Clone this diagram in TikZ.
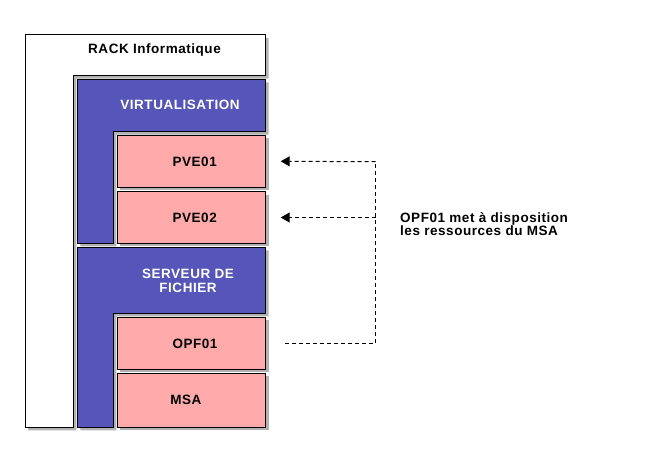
\documentclass[tikz,border=0pt]{standalone}
\usepackage{fontspec}
\setmainfont{Liberation Sans}
\newfontfamily\lblfont[LetterSpace=4]{Liberation Sans}
\usetikzlibrary{shadows,arrows.meta}
\definecolor{virt}{HTML}{5656BA}
\definecolor{vm}{HTML}{FFAAAA}
\begin{document}
\begin{tikzpicture}[x=1pt,y=-1pt,
  shad/.style={drop shadow={shadow xshift=3pt,shadow yshift=-3pt,fill=black,opacity=0.3}},
  box/.style={draw=black,line width=1pt,shad},
  vmbox/.style={box,fill=vm,rectangle,inner sep=0pt,outer sep=0pt,minimum width=148.4pt},
  lbl/.style={font=\lblfont\bfseries\fontsize{13.5}{14}\selectfont,inner sep=0pt,anchor=base},
  link/.style={line width=1pt,dash pattern=on 4pt off 3pt},
  tip/.style={-{Triangle[length=9pt,width=10pt]}}
]
\useasboundingbox[fill=white] (0,0) rectangle (650,462);
% RACK L-shape
\draw[box,fill=white] (25,35) -- (265.7,35) -- (265.7,75.7) -- (73.3,75.7) -- (73.3,427.3) -- (25,427.3) -- cycle;
% VIRTUALISATION L-shape
\draw[box,fill=virt] (77.3,79.3) -- (265.7,79.3) -- (265.7,131.7) -- (113.3,131.7) -- (113.3,243.3) -- (77.3,243.3) -- cycle;
% SERVEUR DE FICHIER L-shape
\draw[box,fill=virt] (77.3,247.3) -- (265.7,247.3) -- (265.7,313.3) -- (113.3,313.3) -- (113.3,427.3) -- (77.3,427.3) -- cycle;
% VM boxes
\node[vmbox,minimum height=52pt] (pve1) at (191.5,161.3) {};
\node[vmbox,minimum height=51.6pt] (pve2) at (191.5,217.5) {};
\node[vmbox,minimum height=52pt] (opf) at (191.5,343.3) {};
\node[vmbox,minimum height=54pt] (msa) at (191.5,400.3) {};
% labels
\node[lbl] (track) at (154.5,54) {RACK Informatique};
\node[lbl,text=white] (tvirt) at (180,110) {VIRTUALISATION};
\node[lbl,text=white,align=center,anchor=base] (tserv) at (188,292.3) {SERVEUR DE\\FICHIER};
\node[lbl] (tpve1) at (194.7,166.7) {PVE01};
\node[lbl] (tpve2) at (194.7,223) {PVE02};
\node[lbl] (topf) at (195,348.7) {OPF01};
\node[lbl] (tmsa) at (185.8,404.3) {MSA};
% connectors
\coordinate (j) at (375.7,161.7);
\draw[link] ([xshift=19.5pt]opf.east) -| (j);
\draw[link,tip] (j) -- ([xshift=15pt]pve1.east);
\draw[link,tip] (j |- pve2.east) -- ([xshift=15pt]pve2.east);
\node[font=\lblfont\bfseries\fontsize{13.5}{13.7}\selectfont,align=left,anchor=north west,inner sep=0pt] (note) at (400,212) {OPF01 met à disposition\\les ressources du MSA};
\end{tikzpicture}
\end{document}
